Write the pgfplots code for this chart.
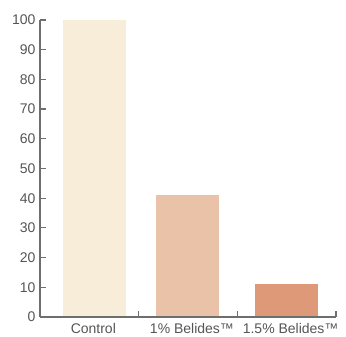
\documentclass[border=0pt]{standalone}
\usepackage{pgfplots}
\pgfplotsset{compat=1.18}
\usepackage{fontspec}
\setmainfont{Liberation Sans}
\definecolor{cA}{RGB}{248,237,216}
\definecolor{cB}{RGB}{234,194,167}
\definecolor{cC}{RGB}{222,154,120}
\definecolor{axgray}{RGB}{110,110,110}
\definecolor{txtgray}{RGB}{85,85,85}
\begin{document}
\begin{tikzpicture}
\begin{axis}[
  at={(0pt,0pt)}, anchor=origin,
  scale only axis, width=296pt, height=297pt,
  xmin=0, xmax=3, ymin=0, ymax=100,
  axis x line*=bottom,
  axis y line*=left,
  axis line style={axgray, line width=1.1pt},
  ytick={0,10,20,30,40,50,60,70,80,90,100},
  xtick={1,2,3},
  xticklabels={},
  extra x ticks={0.5,1.5,2.5},
  extra x tick labels={Control,1\% Belides™,1.5\% Belides™},
  extra x tick style={major tick length=0pt, xticklabel style={xshift=4pt, yshift=-3pt}},
  tick align=inside,
  major tick length=6pt,
  tick style={draw=axgray, line width=1.2pt},
  every tick label/.append style={font=\fontsize{14}{16}\selectfont, text=txtgray},
  /pgf/number format/assume math mode=true,
  yticklabel style={xshift=-1pt},
  clip=false,
  axis on top,
]
\addplot[ybar, bar width=63pt, fill=cA, draw=none] coordinates {(0.55,100)};
\addplot[ybar, bar width=63pt, fill=cB, draw=none] coordinates {(1.5,41.2)};
\addplot[ybar, bar width=63pt, fill=cC, draw=none] coordinates {(2.5,11.1)};
\pgfplotsinvokeforeach{10,20,30,40,50,60,70,80,90,100}{
  \draw[axgray, line width=1.2pt] (axis cs:0,#1) -- ++(6pt,0pt);
}
\end{axis}
\pgfresetboundingbox
\path[use as bounding box] (-40pt,-20pt) rectangle (306pt,317pt);
\end{tikzpicture}
\end{document}
